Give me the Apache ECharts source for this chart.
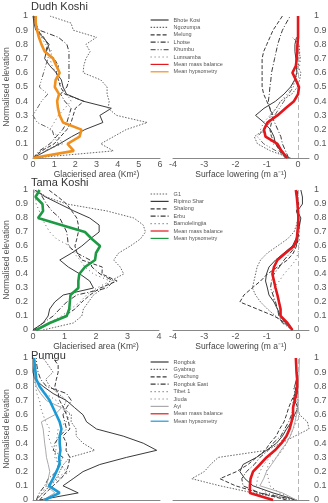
<!DOCTYPE html>
<html>
<head>
<meta charset="utf-8">
<script src="https://cdn.jsdelivr.net/npm/echarts@6/dist/echarts.min.js"></script>
<style>
html, body { margin: 0; padding: 0; background: #fff; }
#chartmain { width: 328px; height: 503px; }
</style>
</head>
<body>
<div id="chartmain"></div>
<script>
// normalised elevation levels (bottom to top)
var elev = [0, 0.05, 0.1, 0.15, 0.2, 0.25, 0.3, 0.35, 0.4, 0.45, 0.5, 0.55, 0.6, 0.65, 0.7, 0.75, 0.8, 0.85, 0.9, 0.95, 1];

// ---- Dudh Koshi : glacierised area (km2) ----
var dkBhoteKosiA = [0, 0.63, 1.26, 1.82, 2.45, 3.3, 3.16, 3.7, 2.37, 1.58, 1.42, 1.34, 1.1, 0.79, 0.55, 0.63, 0.76, 0.47, 0.13, 0.05, 0];
var dkNgozumpaA  = [0, 3.8, 3.2, 3.8, 4.4, 5.4, 3.95, 3.55, 3.6, 3.5, 3.5, 3.2, 2.37, 2.4, 2.5, 2.7, 2.5, 3.0, 1.9, 1.8, 0.8];
var dkMelungA    = [0, 0.4, 1.0, 1.3, 1.6, 1.8, 1.9, 2.0, 2.4, 1.5, 1.3, 1.2, 1.1, 1.2, 1.0, 0.6, 0.7, 0.5, 0.2, 0.1, 0.05];
var dkLhotseA    = [0, 0.3, 0.8, 1.1, 1.4, 1.6, 1.7, 1.8, 1.5, 1.3, 1.6, 1.7, 1.7, 1.7, 1.7, 1.7, 1.6, 1.2, 0.3, 0.1, 0.05];
var dkKhumbuA    = [0, 0.6, 1.2, 1.0, 0.9, 0.2, 0.0, 0.2, 0.4, 0.7, 0.3, 0.4, 0.5, 0.6, 0.7, 0.8, 0.7, 0.5, 0.25, 0.1, 0.05];
var dkLumsambaA  = [0, 0.5, 1.4, 1.2, 0.8, 1.0, 1.2, 1.5, 1.8, 1.6, 1.4, 1.2, 1.1, 0.9, 0.8, 0.9, 0.6, 0.4, 0.2, 0.1, 0.05];
var dkMeanHyp    = [0, 1.93, 1.63, 2.2, 2.29, 1.42, 1.26, 1.18, 1.14, 1.23, 1.03, 1.07, 1.26, 1.1, 0.95, 0.55, 0.4, 0.28, 0.19, 0.13, 0.13];
// ---- Dudh Koshi : surface lowering (m/a) ----
var dkBhoteKosiS = [-0.4, -0.56, -0.72, -0.77, -0.88, -1.09, -1.36, -1.09, -0.72, -0.45, -0.24, -0.11, -0.04, -0.05, -0.07, -0.1, -0.1, -0.05, null, null, null];
var dkNgozumpaS  = [-0.24, -0.88, -1.3, -1.4, -1.09, -0.95, -0.88, -0.7, -0.56, -0.2, -0.02, 0.05, 0.09, -0.02, 0.06, 0.05, 0.03, -0.18, null, null, null];
var dkMelungS    = [-0.4, -0.6, -0.7, -0.85, -0.9, -0.85, -0.8, -0.9, -1.0, -1.1, -1.15, -1.15, -1.15, -1.15, -1.15, -1.1, -1.0, -0.9, -0.8, -0.65, -0.5];
var dkLhotseS    = [-0.3, -0.4, -0.5, -0.55, -0.65, -0.75, -0.85, -0.9, -0.95, -0.92, -0.9, -0.87, -0.85, -0.8, -0.75, -0.7, -0.65, -0.58, -0.5, -0.38, -0.25];
var dkKhumbuS    = [-0.35, -0.7, -1.1, -1.3, -1.1, -0.9, -0.75, -0.6, -0.45, -0.3, -0.15, -0.1, -0.05, 0.02, 0, -0.05, 0.05, null, null, null, null];
var dkLumsambaS  = [-0.3, -0.5, -0.8, -1.0, -1.2, -1.1, -0.9, -0.7, -0.55, -0.35, -0.2, -0.1, 0, 0.05, 0.08, 0.02, -0.05, null, null, null, null];
var dkMeanMB     = [-0.34, -0.53, -0.66, -1.04, -1.09, -0.98, -0.66, -0.4, -0.13, 0, 0.03, -0.07, -0.18, -0.07, -0.04, -0.03, -0.02, 0, 0, 0, 0];

// ---- Tama Koshi : glacierised area ----
var tkG1A        = [0.32, 1.28, 1.55, 1.6, 1.76, 1.92, 2.24, 2.45, 2.88, 2.77, 2.56, 2.72, 3.09, 3.41, 3.57, 3.5, 3.2, 2.35, 1.07, 0.43, 0.1];
var tkRipimoA    = [0, 0.32, 0.48, 0.53, 0.69, 0.96, 1.92, 1.8, 1.49, 1.12, 0.85, 1.23, 1.55, 1.81, 2.1, 2.1, 1.8, 1.3, 0.85, 0.4, 0.05];
var tkShalongA   = [0.05, 0.53, 1.01, 1.33, 1.55, 1.81, 2.13, 2.67, 2.19, 2.2, 1.55, 1.4, 1.33, 1.39, 1.44, 1.44, 1.39, 1.23, 1.07, 0.8, 0.5];
var tkErbuA      = [0, 0.32, 0.64, 0.85, 1.07, 1.39, 2.35, 2.56, 2.13, 1.87, 1.81, 1.39, 1.12, 1.1, 1.07, 0.96, 0.85, 0.6, 0.43, 0.3, 0.16];
var tkBamoA      = [0.1, 0.5, 0.91, 1.2, 1.49, 1.7, 2.03, 2.45, 1.92, 1.65, 1.49, 1.3, 1.17, 0.75, 0.53, 0.4, 0.27, 0.2, 0.1, 0.08, 0.05];
var tkMeanHyp    = [0.1, 0.53, 1.07, 1.15, 1.17, 1.19, 1.44, 1.44, 1.47, 1.65, 1.97, 2.0, 2.13, 1.87, 1.65, 0.9, 0.16, 0.32, 0.3, 0.08, 0.21];
// ---- Tama Koshi : surface lowering ----
var tkG1S        = [-0.18, -0.45, -0.72, -0.98, -1.2, -1.36, -1.46, -1.41, -1.36, -1.31, -1.2, -0.98, -0.66, -0.34, -0.13, -0.05, 0, 0.02, null, null, null];
var tkRipimoS    = [-0.18, -0.4, -0.56, -0.66, -0.77, -0.93, -0.98, -1.04, -1.01, -0.93, -0.72, -0.45, -0.18, -0.07, 0, 0.05, 0.09, -0.02, 0.14, 0.14, 0.09];
var tkShalongS   = [-0.18, -0.4, -0.77, -1.31, -1.86, -1.73, -1.47, -1.2, -0.98, -0.66, -0.34, -0.15, -0.05, 0, 0.02, 0.03, 0, -0.05, 0, null, null];
var tkErbuS      = [-0.18, -0.5, -0.61, -0.66, -0.72, -0.8, -0.88, -0.85, -0.77, -0.6, -0.45, -0.25, -0.07, 0, 0.02, 0.04, 0.02, 0.01, 0.02, 0, -0.03];
var tkBamoS      = [-0.18, -0.45, -0.56, -0.66, -0.77, -0.8, -0.77, -0.6, -0.45, -0.25, -0.07, 0, 0.03, 0.05, 0.04, 0.02, 0, null, null, null, null];
var tkMeanMB     = [-0.18, -0.34, -0.56, -0.56, -0.61, -0.66, -0.72, -0.77, -0.82, -0.77, -0.66, -0.4, -0.13, -0.04, -0.02, 0, 0.01, 0, -0.02, -0.04, -0.07];

// ---- Pumqu : glacierised area ----
var pqRongbukA   = [0.26, 1.78, 1.18, 1.58, 1.97, 2.63, 3.68, 4.87, 4.34, 3.55, 2.5, 2.11, 1.97, 1.64, 1.32, 0.79, 0.4, 0.07, 0, 0, 0];
var pqGyabragA   = [0.13, 0.4, 0.66, 0.92, 1.05, 1.2, 1.45, 2.43, 1.97, 1.7, 1.7, 1.5, 1.51, 1.18, 1.32, 1.0, 0.66, 0.5, 0.79, 0.6, 0.4];
var pqGyachungA  = [0.26, 0.5, 0.79, 1.1, 1.32, 1.4, 1.45, 1.3, 1.32, 1.18, 1.45, 1.4, 1.32, 1.2, 1.05, 0.99, 0.86, 0.92, 0.99, 0.99, 0.79];
var pqRongEastA  = [0.13, 0.25, 0.46, 0.6, 0.92, 1.0, 1.18, 0.8, 0.86, 1.05, 1.32, 1.25, 1.18, 1.32, 1.51, 1.32, 0.53, 0.3, 0.2, 0.15, 0.13];
var pqTibet1A    = [0.13, 0.35, 0.53, 0.9, 1.32, 1.0, 0.86, 0.9, 0.92, 0.95, 0.99, 1.3, 1.45, 1.1, 0.92, 0.5, 0.26, 0.15, 0.13, 0.1, 0.07];
var pqJiudaA     = [0.13, 0.4, 0.66, 1.0, 1.45, 1.0, 0.92, 0.8, 0.7, 0.6, 0.66, 0.5, 0.4, 0.3, 0.26, 0.15, 0.1, 0.05, null, null, null];
var pqAyiA       = [0.4, 0.86, 0.53, 0.6, 0.66, 0.6, 0.53, 0.5, 0.46, 0.43, 0.4, 0.33, 0.86, 1.12, 0.53, 0.3, 0.13, 0.07, 0.07, 0.03, 0];
var pqMeanHyp    = [0.46, 1.05, 0.63, 0.79, 0.92, 1.05, 1.03, 1.08, 1.05, 1.05, 1.12, 1.05, 0.92, 0.79, 0.66, 0.46, 0.26, 0.13, 0.1, 0.07, 0.04];
// ---- Pumqu : surface lowering ----
var pqRongbukS   = [-0.05, -0.8, -1.44, -1.7, -1.86, -1.76, -1.33, -1.01, -0.69, -0.5, -0.37, -0.21, -0.11, 0, -0.11, -0.05, -0.11, -0.05, null, null, null];
var pqGyabragS   = [-0.16, -1.44, -2.5, -3.4, -3.0, -2.8, -2.55, -1.0, -0.55, -0.1, 0.35, 0.3, 0.05, -0.05, 0, -0.1, -0.15, null, null, null, null];
var pqGyachungS  = [-0.37, -1.23, -2.0, -2.5, -1.97, -1.6, -1.33, -1.05, -0.9, -0.7, -0.59, -0.45, -0.37, -0.3, -0.21, -0.1, -0.05, null, null, null, null];
var pqRongEastS  = [-0.05, -1.23, -1.76, -1.8, -1.65, -1.4, -1.22, -0.95, -0.8, -0.55, -0.43, -0.3, -0.21, -0.15, -0.16, -0.1, -0.05, null, null, null, null];
var pqTibet1S    = [-0.16, -1.0, -1.33, -1.3, -1.22, -1.1, -0.9, -0.75, -0.59, -0.4, -0.27, -0.2, -0.05, 0, -0.05, 0, -0.05, null, null, null, null];
var pqJiudaS     = [-0.1, -0.6, -0.9, -0.95, -1.01, -0.95, -0.69, -0.5, -0.37, -0.25, -0.16, -0.05, 0.05, 0, 0.02, 0, -0.02, null, null, null, null];
var pqAyiS       = [-0.05, -0.5, -1.22, -1.1, -1.01, -0.85, -0.69, -0.55, -0.37, -0.25, -0.16, -0.1, -0.05, 0, 0, 0, 0, 0.02, 0.03, 0.04, 0.05];
var pqMeanMB     = [-0.8, -1.54, -1.54, -1.52, -1.44, -1.22, -1.01, -0.74, -0.53, -0.37, -0.27, -0.21, -0.16, -0.16, -0.11, -0.05, -0.03, -0.03, -0.05, -0.06, -0.07];

var basinNames = ['Dudh Koshi', 'Tama Koshi', 'Pumgu'];
var areaMax = [6, 4, 5];

// line looks
var DARK = '#3a3a3a', GREY = '#666';
var look = {
	solid:   { type: 'solid', color: DARK },
	dotted:  { type: [1.5, 1.5], color: GREY },
	dashed:  { type: [4, 2], color: DARK },
	dashdot: { type: [5, 2, 1, 2], color: DARK },
	dashdd:  { type: [5, 2, 1, 2, 1, 2], color: GREY },
	sparse:  { type: [1, 3], color: GREY },
	light:   { type: 'solid', color: '#aaa' }
};

var basins = [
	{ lines: [
		['Bhote Kosi', dkBhoteKosiA, dkBhoteKosiS, 'solid'],
		['Ngozumpa', dkNgozumpaA, dkNgozumpaS, 'dotted'],
		['Melung', dkMelungA, dkMelungS, 'dashed'],
		['Lhotse', dkLhotseA, dkLhotseS, 'dashdot'],
		['Khumbu', dkKhumbuA, dkKhumbuS, 'dashdd'],
		['Lumsamba', dkLumsambaA, dkLumsambaS, 'sparse']
	], hyp: dkMeanHyp, mb: dkMeanMB, hypColor: '#f0901e' },
	{ lines: [
		['G1', tkG1A, tkG1S, 'dotted'],
		['Ripimo Shar', tkRipimoA, tkRipimoS, 'solid'],
		['Shalong', tkShalongA, tkShalongS, 'dashed'],
		['Erbu', tkErbuA, tkErbuS, 'dashdot'],
		['Bamolelingjia', tkBamoA, tkBamoS, 'sparse']
	], hyp: tkMeanHyp, mb: tkMeanMB, hypColor: '#1e9a45' },
	{ lines: [
		['Rongbuk', pqRongbukA, pqRongbukS, 'solid'],
		['Gyabrag', pqGyabragA, pqGyabragS, 'dotted'],
		['Gyachung', pqGyachungA, pqGyachungS, 'dashed'],
		['Rongbuk East', pqRongEastA, pqRongEastS, 'dashdot'],
		['Tibet 1', pqTibet1A, pqTibet1S, 'sparse'],
		['Jiuda', pqJiudaA, pqJiudaS, 'sparse'],
		['Ayi', pqAyiA, pqAyiS, 'light']
	], hyp: pqMeanHyp, mb: pqMeanMB, hypColor: '#1b9ad6' }
];

function pts(xs) {
	var out = [];
	for (var i = 0; i < xs.length; i++) {
		if (xs[i] != null) out.push([xs[i], elev[i]]);
	}
	return out;
}

var FONT = 'Liberation Sans, Arial, sans-serif';
var tops = [16, 190, 358];
var heights = [142, 140, 142];
var titleTops = [1, 177, 350];
var grids = [], xAxes = [], yAxes = [], series = [], legends = [], titles = [];

function elevLabel(v) {
	if (v === 0) return '0';
	if (v === 1) return '1';
	return v.toFixed(1);
}

basins.forEach(function(b, k) {
	var gl = k * 2, gr = k * 2 + 1;
	// zero-width spaces keep the shared legend names apart per panel
	var tag = new Array(k + 1).join('\u200b');
	var mbName = 'Mean mass balance' + tag, hypName = 'Mean hypsometry' + tag;

	grids.push({ left: 33, top: tops[k], width: areaMax[k] === 4 ? 126 : 127, height: heights[k], outerBoundsMode: 'none' });
	grids.push({ left: 173, top: tops[k], width: 136, height: heights[k], outerBoundsMode: 'none' });

	xAxes.push({
		gridIndex: gl, type: 'value', min: 0, max: areaMax[k], interval: 1,
		name: 'Glacierised area (Km²)', nameLocation: 'middle', nameGap: 10,
		nameTextStyle: { fontSize: 8.5, color: '#444', fontFamily: FONT },
		axisLine: { lineStyle: { color: '#888' } }, axisTick: { show: false },
		axisLabel: { fontSize: 9, color: '#555', margin: 2, fontFamily: FONT },
		splitLine: { show: false }
	});
	xAxes.push({
		gridIndex: gr, type: 'value', min: -4, max: 0.35, interval: 1,
		name: 'Surface lowering (m a⁻¹)', nameLocation: 'middle', nameGap: 10,
		nameTextStyle: { fontSize: 8.5, color: '#444', fontFamily: FONT },
		axisLine: { onZero: false, lineStyle: { color: '#888' } }, axisTick: { show: false },
		axisLabel: { fontSize: 9, color: '#555', margin: 2, fontFamily: FONT,
			formatter: function(v) { return Number.isInteger(v) ? String(v) : ''; } },
		splitLine: { show: false }
	});
	yAxes.push({
		gridIndex: gl, type: 'value', min: 0, max: 1, interval: 0.1,
		name: 'Normalised elevation', nameLocation: 'middle', nameGap: 19,
		nameTextStyle: { fontSize: 8.5, color: '#555', fontFamily: FONT },
		axisLine: { show: true, lineStyle: { color: '#888' } }, axisTick: { show: false },
		axisLabel: { fontSize: 9, color: '#555', margin: 5, formatter: elevLabel, fontFamily: FONT },
		splitLine: { show: false }
	});
	yAxes.push({
		gridIndex: gr, type: 'value', min: 0, max: 1, interval: 0.1, position: 'right',
		axisLine: { show: false }, axisTick: { show: false },
		axisLabel: { fontSize: 9, color: '#555', margin: 5, formatter: elevLabel, fontFamily: FONT },
		splitLine: { show: false }
	});

	var names = [];
	b.lines.forEach(function(l) {
		var st = look[l[3]];
		names.push(l[0]);
		[[gl, l[1]], [gr, l[2]]].forEach(function(p) {
			series.push({
				name: l[0], type: 'line', xAxisIndex: p[0], yAxisIndex: p[0],
				symbol: 'none', data: pts(p[1]), silent: true, z: 2,
				color: st.color,
				lineStyle: { color: st.color, width: 1, type: st.type }
			});
		});
	});
	names.push(mbName, hypName);
	series.push({
		name: mbName, type: 'line', xAxisIndex: gr, yAxisIndex: gr,
		symbol: 'none', data: pts(b.mb), silent: true, z: 5, color: '#e3171c',
		lineStyle: { color: '#e3171c', width: 2.6 },
		markLine: { silent: true, symbol: 'none', label: { show: false },
			lineStyle: { color: '#b5b5b5', type: [5, 3], width: 1 },
			data: [{ xAxis: 0 }] }
	});
	series.push({
		name: hypName, type: 'line', xAxisIndex: gl, yAxisIndex: gl,
		symbol: 'none', data: pts(b.hyp), silent: true, z: 5, color: b.hypColor,
		lineStyle: { color: b.hypColor, width: 2.6 }
	});

	legends.push({
		left: 150, top: tops[k] + 1, orient: 'vertical', padding: 0,
		itemWidth: 18, itemHeight: 6, itemGap: 1.4, selectedMode: false,
		itemStyle: { opacity: 0 },
		lineStyle: { width: 1.2 },
		textStyle: { fontSize: 5.5, color: '#555', lineHeight: 6, fontFamily: FONT },
		formatter: function(n) { return n.replace(/\u200b/g, ''); },
		data: names
	});
	titles.push({
		text: basinNames[k], left: 31, top: titleTops[k], padding: 0,
		textStyle: { fontSize: 11, fontWeight: 'normal', color: '#333', fontFamily: FONT }
	});
});

var option = {
	animation: false,
	title: titles,
	legend: legends,
	grid: grids,
	xAxis: xAxes,
	yAxis: yAxes,
	series: series
};

var myChart = echarts.init(document.getElementById('chartmain'));
myChart.setOption(option);
</script>
</body>
</html>
